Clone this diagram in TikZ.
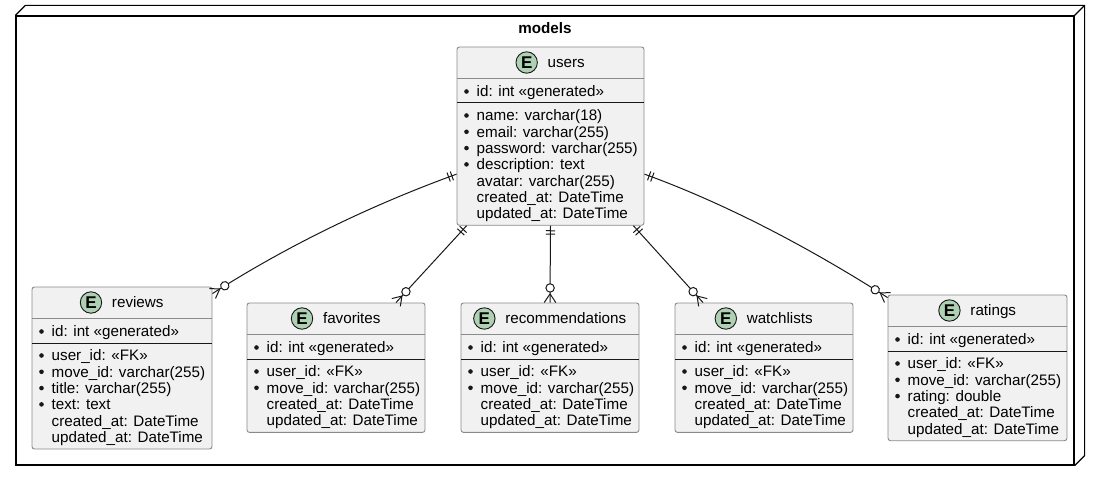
\documentclass[tikz,border=0pt]{standalone}
\usepackage{fontspec}
\setmainfont{Liberation Sans}
\usetikzlibrary{fit,decorations.markings,calc}
\definecolor{boxfill}{HTML}{F1F1F1}
\definecolor{boxline}{HTML}{8A8A8A}
\definecolor{ink}{HTML}{181818}
\definecolor{egreen}{HTML}{ADD1B2}
\tikzset{
  ebox/.style={draw=boxline, fill=boxfill, line width=0.9pt, rounded corners=2.5pt, inner sep=0pt},
  hdrline/.style={draw=boxline, line width=0.9pt},
  sepline/.style={draw=ink, line width=1pt},
  rowtext/.style={anchor=base west, inner sep=0pt, font=\fontsize{15.2}{18}\selectfont, text=black},
  titletext/.style={anchor=base, inner sep=0pt, font=\fontsize{15.2}{18}\selectfont, text=black},
  ecirc/.style={circle, draw=ink, fill=egreen, line width=0.9pt, minimum size=21.4pt, inner sep=0pt, text=black, font=\bfseries\fontsize{17}{18}\selectfont},
  frame/.style={draw=black, line width=1.2pt},
  erel/.style={draw=ink, line width=1pt, postaction={decorate}, decoration={markings,
    mark=at position 5pt with {\draw[ink, line width=1pt] (0,-4.7) -- (0,4.7);},
    mark=at position 8.4pt with {\draw[ink, line width=1pt] (0,-4.7) -- (0,4.7);},
    mark=at position -14.6pt with {\draw[ink, line width=1pt, fill=white] (0,0) circle (4.2pt);},
    mark=at position -8.7pt with {\draw[ink, line width=1pt] (0,0) -- (8.7,5.8) (0,0) -- (8.7,-5.8);}}},
}
% name, left, top, right, number of rows, title
\newcommand\mkentity[6]{%
  \pgfmathsetmacro\entbot{#3+68.5+(#5-1)*16.3+12}%
  \node[ebox, fit={(#2,#3) (#4,\entbot)}] (#1) {};
  \draw[hdrline] (#2,#3+31.5) -- (#4,#3+31.5);
  \draw[sepline] (#2,#3+56) -- (#4,#3+56);
  \node[titletext] (#1-t) at ({(#2+#4)/2},#3+15.5+5.4) {\hspace*{31.5pt}#6};
  \node[ecirc] (#1-e) at ([shift={(10.7,-5.4)}]#1-t.base west) {E};
  \fill[ink] (#2+9.5,#3+44.5) circle (2.3pt);
  \node[rowtext] (#1-id) at (#2+19.5,#3+44.5+5.4) {id: int «generated»};
}
% name, left, top, list of flag/text
\newcommand\mkrows[4]{%
  \foreach \fl/\tx [count=\i] in {#4} {%
    \pgfmathsetmacro\ry{#3+68.5+(\i-1)*16.3}%
    \node[rowtext] (#1-r\i) at (#2+19.5,\ry+5.4) {\tx};
    \ifnum\fl=1 \fill[ink] (#2+9.5,\ry) circle (2.3pt);\fi
  }%
}
\begin{document}
\begin{tikzpicture}[x=1pt,y=-1pt]
\useasboundingbox (0,0) rectangle (1100,481);
% package frame
\node[frame, fit={(16,16) (1074,465)}, inner sep=0pt] (models) {};
\draw[frame] (models.north west) -- ++(10,-10) -- ([shift={(10,-10)}]models.north east) -- ([shift={(10,-10)}]models.south east) -- (models.south east);
\draw[frame] (models.north east) -- ++(10,-10);
\node[anchor=base, inner sep=0pt, font=\bfseries\fontsize{15.2}{18}\selectfont] (models-title) at (545,33.4) {models};

% entities
\mkentity{users}{457}{47}{644}{7}{users}
\mkrows{users}{457}{47}{1/name: varchar(18), 1/email: varchar(255), 1/password: varchar(255), 1/description: text, 0/avatar: varchar(255), 0/created\_at: DateTime, 0/updated\_at: DateTime}

\mkentity{reviews}{32}{287}{212}{6}{reviews}
\mkrows{reviews}{32}{287}{1/user\_id: «FK», 1/move\_id: varchar(255), 1/title: varchar(255), 1/text: text, 0/created\_at: DateTime, 0/updated\_at: DateTime}

\mkentity{favorites}{247}{303}{425}{4}{favorites}
\mkrows{favorites}{247}{303}{1/user\_id: «FK», 1/move\_id: varchar(255), 0/created\_at: DateTime, 0/updated\_at: DateTime}

\mkentity{recommendations}{461}{303}{639}{4}{recommendations}
\mkrows{recommendations}{461}{303}{1/user\_id: «FK», 1/move\_id: varchar(255), 0/created\_at: DateTime, 0/updated\_at: DateTime}

\mkentity{watchlists}{675}{303}{853}{4}{watchlists}
\mkrows{watchlists}{675}{303}{1/user\_id: «FK», 1/move\_id: varchar(255), 0/created\_at: DateTime, 0/updated\_at: DateTime}

\mkentity{ratings}{888}{295}{1067}{5}{ratings}
\mkrows{ratings}{888}{295}{1/user\_id: «FK», 1/move\_id: varchar(255), 1/rating: double, 0/created\_at: DateTime, 0/updated\_at: DateTime}

% relations
\draw[erel] ([yshift=-38pt]users.west) .. controls +(-80,29) and +(80,-51) .. ([yshift=-7pt]reviews.north east);
\draw[erel] ([xshift=10pt]users.south west) -- ([xshift=60pt]favorites.north);
\draw[erel] (users.south) -- (recommendations.north);
\draw[erel] ([xshift=-11pt]users.south east) -- ([xshift=-61pt]watchlists.north);
\draw[erel] ([yshift=-38pt]users.east) .. controls +(80,29) and +(-80,-51) .. ([yshift=-3pt]ratings.north west);
\end{tikzpicture}
\end{document}
